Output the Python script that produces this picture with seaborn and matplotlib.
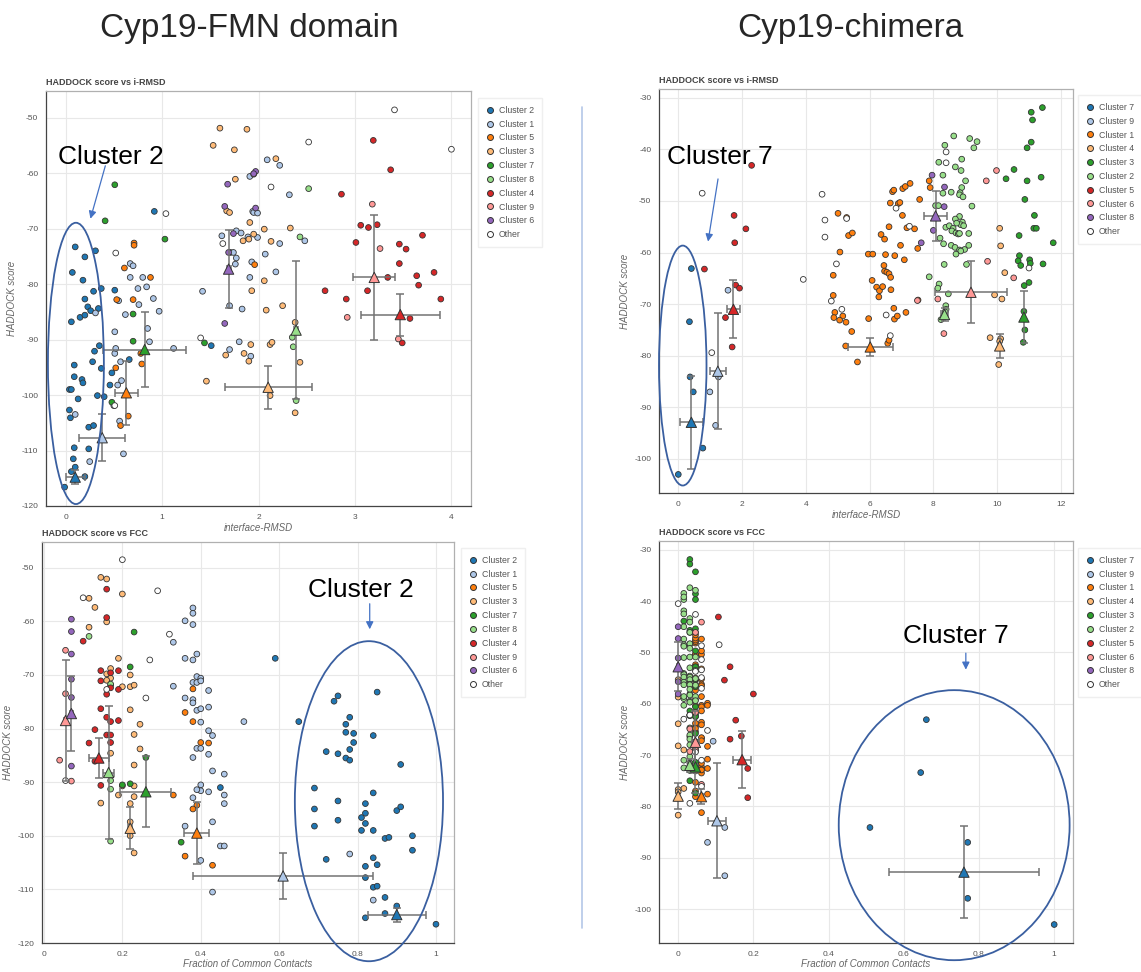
import pandas as pd
import matplotlib.pyplot as plt
import seaborn as sns
from matplotlib.patches import Ellipse
from matplotlib.lines import Line2D
from matplotlib.ticker import AutoMinorLocator, MultipleLocator, FuncFormatter

# colour by rank of the cluster in each legend (bokeh Category20 pairs)
COLORS = ["#1f77b4", "#aec7e8", "#ff7f0e", "#ffbb78", "#2ca02c",
          "#98df8a", "#d62728", "#ff9896", "#9467bd", "#ffffff"]

FMN_ORDER = ["Cluster 2", "Cluster 1", "Cluster 5", "Cluster 3", "Cluster 7",
             "Cluster 8", "Cluster 4", "Cluster 9", "Cluster 6", "Other"]
CHI_ORDER = ["Cluster 7", "Cluster 9", "Cluster 1", "Cluster 4", "Cluster 3",
             "Cluster 2", "Cluster 5", "Cluster 6", "Cluster 8", "Other"]

# ---- Cyp19-FMN domain: (i-RMSD, HADDOCK score) ----
FMN_RMSD = {
    "Cluster 2": [(0.10, -73.3), (0.07, -77.9), (0.20, -75.1), (0.31, -74.0), (0.18, -79.3),
                  (0.20, -82.7), (0.29, -81.3), (0.37, -80.8), (0.51, -81.1), (0.06, -86.8),
                  (0.15, -86.0), (0.20, -85.6), (0.23, -84.1), (0.26, -84.8), (0.34, -84.4),
                  (0.35, -91.1), (0.30, -92.1), (0.28, -94.0), (0.09, -94.6), (0.09, -96.7),
                  (0.17, -97.2), (0.18, -97.8), (0.04, -99.0), (0.06, -99.0), (0.33, -100.1),
                  (0.13, -100.7), (0.04, -102.7), (0.05, -104.1), (0.09, -109.5), (0.08, -111.5),
                  (0.10, -113.0), (0.20, -114.7), (0.24, -109.7), (0.24, -105.8), (0.29, -105.5),
                  (-0.01, -116.6), (0.37, -95.2), (0.40, -100.3), (0.46, -98.2), (0.48, -96.0),
                  (0.66, -93.6), (0.92, -66.9), (1.51, -91.1), (0.06, -113.8)],
    "Cluster 1": [(0.10, -103.5), (0.31, -85.2), (0.51, -88.6), (0.51, -92.5), (0.52, -91.6),
                  (0.57, -94.0), (0.54, -98.2), (0.58, -97.4), (0.50, -101.9), (0.56, -104.7),
                  (0.60, -110.6), (0.25, -112.0), (0.67, -76.3), (0.70, -76.7), (0.67, -78.8),
                  (0.75, -80.8), (0.80, -78.8), (0.84, -80.5), (0.76, -83.7), (0.62, -85.5),
                  (0.55, -83.0), (0.85, -88.0), (0.87, -90.4), (0.91, -82.6), (0.97, -84.9),
                  (1.12, -91.6), (1.42, -81.3), (1.62, -71.3), (1.71, -74.3), (1.74, -74.3),
                  (1.77, -75.3), (1.76, -76.4), (1.70, -83.9), (1.77, -70.4), (1.82, -70.8),
                  (1.83, -84.5), (1.80, -90.4), (1.70, -91.8), (1.89, -71.5), (1.91, -78.8),
                  (1.91, -60.6), (1.94, -66.9), (1.95, -67.1), (1.99, -67.2), (1.99, -71.6),
                  (1.93, -76.0), (1.92, -93.0), (2.07, -74.6), (2.09, -57.6), (2.18, -77.8),
                  (2.22, -58.6), (2.22, -72.7), (2.32, -63.9), (2.48, -72.2)],
    "Cluster 5": [(0.71, -72.6), (0.71, -73.0), (0.61, -77.1), (0.53, -82.8), (0.70, -82.8),
                  (0.88, -78.8), (0.78, -92.5), (0.79, -94.4), (0.52, -95.1), (0.57, -105.5),
                  (0.65, -103.8), (1.96, -76.5)],
    "Cluster 3": [(1.60, -51.9), (1.88, -52.1), (1.53, -55.0), (1.75, -55.8), (2.18, -57.4),
                  (1.95, -60.2), (1.76, -61.1), (1.67, -66.8), (1.70, -67.1), (1.91, -68.9),
                  (2.06, -70.1), (2.33, -69.9), (1.95, -71.0), (1.84, -72.2), (1.90, -71.9),
                  (2.13, -72.3), (2.06, -79.4), (1.93, -81.2), (2.08, -84.7), (2.25, -83.9),
                  (1.66, -92.8), (1.85, -92.5), (1.92, -90.9), (2.12, -90.9), (2.14, -90.5),
                  (1.90, -93.9), (1.46, -97.5), (2.12, -100.1), (2.43, -94.1), (2.38, -86.9),
                  (2.38, -103.2)],
    "Cluster 7": [(0.51, -62.1), (0.41, -68.6), (1.03, -71.9), (0.70, -85.4), (0.70, -90.3),
                  (1.44, -90.6), (0.48, -101.3)],
    "Cluster 8": [(2.52, -62.8), (2.43, -71.5), (2.35, -89.6), (2.36, -91.3), (2.39, -101.0)],
    "Cluster 4": [(3.19, -54.1), (3.37, -59.4), (2.86, -63.8), (3.06, -69.4), (3.14, -69.8),
                  (3.23, -69.3), (3.01, -72.5), (3.46, -72.8), (3.53, -73.7), (3.70, -71.2),
                  (3.46, -76.3), (3.34, -78.8), (3.64, -78.5), (3.66, -80.2), (3.82, -77.9),
                  (2.69, -81.2), (3.13, -81.2), (2.91, -82.7), (3.89, -82.7), (3.57, -86.2),
                  (3.49, -90.6)],
    "Cluster 9": [(3.18, -65.6), (3.26, -73.6), (2.92, -86.0), (3.45, -89.9)],
    "Cluster 6": [(1.97, -59.7), (1.95, -60.1), (1.68, -62.0), (1.65, -66.0), (1.97, -66.3),
                  (1.74, -70.9), (1.69, -74.3), (1.65, -87.1)],
    "Other": [(3.41, -48.6), (4.00, -55.7), (2.52, -54.4), (2.13, -62.5), (1.04, -67.3),
              (0.52, -74.4), (1.63, -72.7), (1.40, -89.7), (0.51, -101.9)],
}

# ---- Cyp19-FMN domain: (FCC, HADDOCK score) ----
FMN_FCC = {
    "Cluster 2": [(0.59, -66.9), (0.65, -78.7), (0.74, -74.9), (0.75, -73.9), (0.85, -73.2),
                  (0.77, -79.2), (0.78, -77.9), (0.77, -80.7), (0.79, -80.9), (0.84, -81.3),
                  (0.79, -82.6), (0.72, -84.3), (0.75, -84.7), (0.77, -85.5), (0.78, -85.9),
                  (0.78, -83.9), (0.91, -86.7), (0.69, -91.1), (0.69, -95.0), (0.69, -98.2),
                  (0.75, -93.5), (0.75, -97.1), (0.84, -92.0), (0.82, -94.0), (0.82, -95.8),
                  (0.81, -96.6), (0.82, -97.7), (0.81, -99.0), (0.84, -99.0), (0.90, -95.3),
                  (0.91, -94.6), (0.87, -100.5), (0.88, -100.3), (0.94, -100.0), (0.94, -102.7),
                  (0.72, -104.4), (0.84, -104.1), (0.82, -105.7), (0.85, -105.4), (0.82, -107.8),
                  (0.84, -109.6), (0.85, -109.4), (0.87, -111.5), (0.90, -113.1), (0.87, -114.5),
                  (0.82, -115.3), (1.00, -116.5), (0.45, -91.0)],
    "Cluster 1": [(0.38, -57.5), (0.38, -58.5), (0.36, -59.9), (0.38, -60.6), (0.33, -63.9),
                  (0.33, -72.1), (0.36, -66.9), (0.38, -67.2), (0.39, -66.1), (0.39, -70.3),
                  (0.38, -71.4), (0.39, -71.4), (0.40, -70.6), (0.40, -71.1), (0.36, -74.3),
                  (0.38, -74.6), (0.38, -75.2), (0.39, -76.6), (0.40, -76.3), (0.42, -76.0),
                  (0.42, -72.9), (0.40, -78.8), (0.51, -78.7), (0.42, -80.4), (0.43, -81.3),
                  (0.39, -83.7), (0.40, -83.7), (0.42, -84.8), (0.38, -85.4), (0.43, -87.9),
                  (0.46, -88.5), (0.40, -90.5), (0.40, -91.6), (0.39, -91.4), (0.42, -91.8),
                  (0.46, -92.4), (0.46, -94.0), (0.38, -92.9), (0.43, -97.4), (0.36, -98.2),
                  (0.45, -101.9), (0.46, -101.9), (0.40, -104.6), (0.43, -110.5), (0.78, -103.4),
                  (0.84, -112.0)],
    "Cluster 5": [(0.38, -72.6), (0.36, -77.0), (0.38, -78.7), (0.40, -82.6), (0.42, -82.7),
                  (0.33, -92.4), (0.39, -94.3), (0.38, -95.0), (0.36, -103.8), (0.43, -105.5)],
    "Cluster 3": [(0.145, -51.8), (0.16, -52.1), (0.20, -54.9), (0.115, -55.7), (0.13, -57.4),
                  (0.115, -61.1), (0.16, -60.1), (0.19, -66.9), (0.17, -68.8), (0.16, -69.8),
                  (0.22, -70.0), (0.17, -70.6), (0.16, -71.0), (0.20, -72.2), (0.22, -72.2),
                  (0.23, -71.9), (0.22, -76.5), (0.245, -79.2), (0.23, -81.1), (0.17, -84.6),
                  (0.245, -83.8), (0.23, -86.8), (0.23, -90.7), (0.20, -90.7), (0.19, -92.4),
                  (0.23, -92.7), (0.22, -94.0), (0.145, -93.9), (0.22, -97.4), (0.22, -100.0),
                  (0.23, -103.2)],
    "Cluster 7": [(0.23, -62.0), (0.22, -68.5), (0.17, -71.9), (0.26, -85.4), (0.20, -90.5),
                  (0.22, -90.3), (0.35, -101.2)],
    "Cluster 8": [(0.115, -62.8), (0.17, -71.7), (0.17, -89.7), (0.17, -91.3), (0.17, -101.0)],
    "Cluster 4": [(0.16, -54.0), (0.10, -63.7), (0.16, -59.3), (0.145, -69.2), (0.145, -71.1),
                  (0.17, -69.6), (0.19, -69.2), (0.17, -72.4), (0.19, -72.7), (0.16, -73.6),
                  (0.145, -76.3), (0.16, -77.9), (0.17, -78.7), (0.19, -78.5), (0.13, -80.2),
                  (0.16, -81.2), (0.17, -81.2), (0.17, -82.6), (0.115, -82.7), (0.13, -86.1),
                  (0.145, -90.6)],
    "Cluster 9": [(0.055, -65.4), (0.055, -73.5), (0.04, -85.9), (0.07, -89.8)],
    "Cluster 6": [(0.07, -59.6), (0.07, -61.9), (0.07, -66.1), (0.07, -70.8), (0.07, -74.2),
                  (0.07, -87.0)],
    "Other": [(0.20, -48.5), (0.10, -55.6), (0.29, -54.3), (0.32, -62.4), (0.27, -67.2),
              (0.16, -72.7), (0.26, -74.3), (0.055, -89.7)],
}

# cluster means (top 4) +/- sd, in FMN_ORDER without "Other"
FMN_RMSD_MX = [0.10, 0.38, 0.63, 2.10, 0.82, 2.39, 3.47, 3.20, 1.69]
FMN_RMSD_SX = [0.10, 0.24, 0.12, 0.45, 0.43, 0.02, 0.41, 0.22, 0.02]
FMN_RMSD_MY = [-114.8, -107.7, -99.6, -98.6, -91.8, -88.3, -85.5, -78.8, -77.3]
FMN_RMSD_SY = [1.2, 4.2, 5.8, 3.9, 6.7, 12.5, 3.8, 11.2, 7.0]
FMN_FCC_MX = [0.90, 0.61, 0.39, 0.22, 0.26, 0.165, 0.14, 0.055, 0.07]
FMN_FCC_SX = [0.074, 0.23, 0.032, 0.005, 0.065, 0.014, 0.025, 0.004, 0.004]
FMN_FCC_MY = [-114.7, -107.5, -99.5, -98.6, -91.8, -88.2, -85.5, -78.5, -77.2]
FMN_FCC_SY = [1.3, 4.2, 5.8, 3.9, 6.6, 12.4, 3.8, 11.2, 7.0]

# ---- Cyp19-chimera: (i-RMSD, FCC, HADDOCK score) ----
CHI = {
    "Cluster 7": [(0.41, 0.66, -63.1), (0.35, 0.645, -73.4), (0.37, 0.51, -84.1),
                  (0.47, 0.77, -87.0), (0.77, 0.77, -97.9), (0.0, 1.0, -103.0)],
    "Cluster 9": [(1.56, 0.093, -67.3), (1.26, 0.124, -84.1), (0.99, 0.078, -87.0),
                  (1.17, 0.124, -93.5)],
    "Cluster 1": [(5.01, 0.046, -52.4), (5.28, 0.062, -53.2), (5.34, 0.046, -56.7), (5.46, 0.062, -56.2),
                  (5.07, 0.078, -59.9), (4.86, 0.046, -64.4), (4.86, 0.078, -68.3), (4.91, 0.046, -71.6),
                  (4.88, 0.078, -72.6), (5.16, 0.062, -72.3), (5.06, 0.046, -73.1), (5.26, 0.062, -73.5),
                  (5.25, 0.046, -78.1), (5.44, 0.046, -75.3), (5.62, 0.062, -81.2), (5.96, 0.062, -60.3),
                  (6.10, 0.078, -60.3), (6.08, 0.046, -65.4), (5.97, 0.062, -72.8), (6.36, 0.062, -56.5),
                  (6.47, 0.046, -57.4), (6.45, 0.046, -62.5), (6.50, 0.046, -60.4), (6.47, 0.062, -63.6),
                  (6.54, 0.046, -63.8), (6.61, 0.062, -64.1), (6.66, 0.046, -64.8), (6.22, 0.062, -66.7),
                  (6.31, 0.046, -67.4), (6.41, 0.062, -66.6), (6.29, 0.046, -68.6), (6.67, 0.062, -67.2),
                  (6.61, 0.046, -55.0), (6.65, 0.062, -50.4), (6.72, 0.046, -48.2), (6.76, 0.046, -47.9),
                  (6.90, 0.046, -50.5), (6.95, 0.046, -50.3), (7.04, 0.046, -47.6), (7.12, 0.046, -47.2),
                  (7.27, 0.046, -46.6), (6.79, 0.062, -60.6), (6.76, 0.078, -70.8), (6.78, 0.062, -72.9),
                  (6.87, 0.046, -72.3), (6.57, 0.078, -77.6), (6.61, 0.046, -77.0), (6.97, 0.062, -58.6),
                  (7.03, 0.046, -52.8), (7.09, 0.062, -61.4), (7.14, 0.062, -71.6), (7.17, 0.062, -55.2),
                  (7.41, 0.046, -55.4), (7.57, 0.062, -49.7), (7.51, 0.046, -59.2), (7.52, 0.046, -69.2),
                  (7.87, 0.046, -46.1), (7.90, 0.062, -47.4)],
    "Cluster 4": [(10.08, 0.0, -55.3), (10.11, 0.0, -58.7), (10.24, 0.0, -63.9), (9.92, 0.0, -68.2),
                  (10.15, 0.015, -69.0), (9.78, 0.015, -76.5), (10.11, 0.0, -76.7), (10.08, 0.0, -77.2),
                  (10.05, 0.0, -81.7)],
    "Cluster 3": [(11.42, 0.031, -31.9), (11.07, 0.031, -32.8), (11.11, 0.046, -34.3), (11.07, 0.046, -38.6),
                  (10.94, 0.046, -39.7), (10.53, 0.015, -43.9), (10.28, 0.031, -45.7), (11.38, 0.046, -45.4),
                  (10.94, 0.031, -46.1), (10.87, 0.046, -49.7), (11.17, 0.046, -52.8), (11.15, 0.046, -55.3),
                  (11.23, 0.031, -55.3), (10.69, 0.046, -56.7), (11.76, 0.031, -58.1), (10.70, 0.046, -60.6),
                  (10.66, 0.046, -61.6), (11.02, 0.031, -61.4), (11.04, 0.046, -62.1), (11.44, 0.031, -62.2),
                  (10.74, 0.046, -62.5), (10.85, 0.031, -66.4), (11.00, 0.046, -65.8), (10.84, 0.046, -71.4),
                  (10.87, 0.031, -75.0), (10.82, 0.046, -77.4)],
    "Cluster 2": [(8.64, 0.031, -37.4), (9.14, 0.046, -37.9), (9.37, 0.015, -38.5), (9.27, 0.015, -39.7),
                  (8.36, 0.015, -39.2), (8.89, 0.015, -41.9), (8.17, 0.015, -42.5), (8.69, 0.031, -43.4),
                  (8.87, 0.031, -44.1), (8.30, 0.015, -45.0), (9.01, 0.031, -46.1), (8.89, 0.015, -47.4),
                  (8.84, 0.031, -48.4), (8.56, 0.031, -48.3), (8.30, 0.015, -48.5), (8.82, 0.015, -48.8),
                  (8.93, 0.031, -49.2), (8.07, 0.046, -50.9), (8.16, 0.031, -50.9), (9.21, 0.015, -51.0),
                  (8.82, 0.031, -53.0), (8.69, 0.046, -53.5), (8.91, 0.015, -54.1), (8.86, 0.031, -54.6),
                  (8.73, 0.015, -54.3), (8.95, 0.031, -54.8), (8.39, 0.046, -55.1), (8.50, 0.015, -54.8),
                  (8.62, 0.031, -55.3), (8.58, 0.015, -55.8), (8.71, 0.031, -56.2), (8.78, 0.046, -56.4),
                  (8.82, 0.031, -56.3), (9.11, 0.015, -56.3), (8.21, 0.031, -57.2), (8.32, 0.031, -58.3),
                  (8.56, 0.046, -58.6), (8.68, 0.015, -59.0), (8.82, 0.031, -59.5), (8.98, 0.046, -59.4),
                  (9.11, 0.015, -58.6), (8.86, 0.031, -59.7), (8.71, 0.015, -60.3), (9.04, 0.031, -62.3),
                  (8.34, 0.031, -62.3), (7.87, 0.031, -64.7), (8.18, 0.031, -66.1), (8.14, 0.031, -66.9),
                  (8.47, 0.031, -68.0), (8.39, 0.031, -70.3), (8.40, 0.015, -71.0), (8.37, 0.031, -71.5),
                  (8.34, 0.031, -72.1), (8.24, 0.031, -73.0), (8.31, 0.015, -72.5)],
    "Cluster 5": [(2.30, 0.107, -43.1), (1.75, 0.138, -52.8), (2.12, 0.123, -55.4), (1.77, 0.200, -58.1),
                  (0.82, 0.153, -63.2), (1.80, 0.168, -66.3), (1.92, 0.138, -66.9), (1.48, 0.185, -72.6),
                  (1.69, 0.185, -78.3)],
    "Cluster 6": [(9.98, 0.062, -44.1), (9.66, 0.046, -46.1), (9.70, 0.046, -61.7), (10.52, 0.031, -64.9),
                  (8.14, 0.046, -69.0), (7.50, 0.031, -69.3), (8.33, 0.062, -75.7)],
    "Cluster 8": [(7.96, 0.0, -45.0), (8.35, 0.0, -47.3), (8.34, 0.0, -51.1), (8.00, 0.0, -55.7),
                  (7.62, 0.0, -58.1)],
    "Other": [(0.75, 0.109, -48.5), (4.51, 0.062, -48.7), (4.60, 0.046, -53.7), (4.60, 0.062, -57.0),
              (4.96, 0.031, -62.2), (3.92, 0.078, -65.2), (4.80, 0.046, -69.4), (5.13, 0.062, -71.0),
              (5.28, 0.062, -53.4), (6.65, 0.062, -76.1), (6.52, 0.046, -72.1), (6.83, 0.062, -51.4),
              (7.25, 0.062, -54.9), (8.40, 0.0, -40.5), (8.40, 0.046, -42.6), (11.00, 0.015, -63.0),
              (1.05, 0.031, -79.4)],
}

CHI_RMSD_MX = [0.41, 1.24, 6.02, 10.08, 10.84, 8.35, 1.73, 9.18, 8.07]
CHI_RMSD_SX = [0.35, 0.25, 0.71, 0.05, 0.03, 0.10, 0.19, 1.13, 0.37]
CHI_RMSD_MY = [-92.9, -83.0, -78.3, -78.1, -72.5, -72.0, -71.0, -67.7, -52.9]
CHI_RMSD_SY = [9.0, 11.2, 1.8, 2.4, 5.0, 1.2, 5.6, 6.0, 4.8]
CHI_FCC_MX = [0.76, 0.103, 0.062, 0.0, 0.046, 0.031, 0.17, 0.046, 0.0]
CHI_FCC_SX = [0.20, 0.023, 0.005, 0.003, 0.005, 0.004, 0.023, 0.01, 0.002]
CHI_FCC_MY = [-92.8, -82.8, -78.1, -78.0, -72.3, -72.0, -70.9, -67.5, -52.8]
CHI_FCC_SY = [8.9, 11.2, 1.5, 2.5, 5.0, 1.2, 5.6, 6.0, 4.8]


def points_frame(groups):
    rows = [(name, x, y) for name, pts in groups.items() for x, y in pts]
    return pd.DataFrame(rows, columns=["cluster", "x", "y"])


def chimera_frame(col):
    rows = [(name, p[col], p[2]) for name, pts in CHI.items() for p in pts]
    return pd.DataFrame(rows, columns=["cluster", "x", "y"])


def means_frame(order, mx, sx, my, sy):
    return pd.DataFrame({"cluster": order[:-1], "mx": mx, "sx": sx, "my": my, "sy": sy})


sns.set_style("white")
plt.rcParams["font.family"] = ["Liberation Sans", "DejaVu Sans"]
plt.rcParams["axes.unicode_minus"] = False

W, H = 1141, 972
fig = plt.figure(figsize=(W / 100, H / 100), dpi=100)


def panel(rect, df, means, order, xlim, ylim, xstep, ystep, title, xlabel, legend_xy, xlabel_gap):
    ax_h = rect[3] - rect[1]
    ax = fig.add_axes([rect[0] / W, 1 - rect[3] / H, (rect[2] - rect[0]) / W, ax_h / H])
    pal = dict(zip(order, COLORS))
    sns.scatterplot(data=df, x="x", y="y", hue="cluster", hue_order=order, palette=pal,
                    s=17, edgecolor="#333333", linewidth=0.6, legend=False, ax=ax, zorder=2)
    ax.errorbar(means["mx"], means["my"], xerr=means["sx"], yerr=means["sy"], fmt="none",
                ecolor="#737373", elinewidth=1.1, capsize=3, capthick=1.1, zorder=3)
    sns.scatterplot(data=means, x="mx", y="my", hue="cluster", hue_order=order[:-1], palette=pal,
                    marker="^", s=55, edgecolor="#333333", linewidth=0.7, legend=False, ax=ax, zorder=4)
    ax.set_xlim(*xlim)
    ax.set_ylim(*ylim)
    ax.xaxis.set_major_locator(MultipleLocator(xstep))
    ax.yaxis.set_major_locator(MultipleLocator(ystep))
    ax.xaxis.set_minor_locator(AutoMinorLocator(5))
    ax.yaxis.set_minor_locator(AutoMinorLocator(5))
    ax.xaxis.set_major_formatter(FuncFormatter(lambda v, p: f"{v:g}"))
    ax.yaxis.set_major_formatter(FuncFormatter(lambda v, p: f"{v:g}"))
    ax.tick_params(which="major", labelsize=6, colors="#555555", length=3.5, width=0.8, pad=2)
    ax.tick_params(which="minor", colors="#555555", length=2, width=0.6)
    ax.grid(True, which="major", color="#e8e8e8", lw=0.8)
    ax.set_axisbelow(True)
    for side, sp in ax.spines.items():
        sp.set_color("#444444" if side in ("left", "bottom") else "#b0b0b0")
        sp.set_linewidth(0.9)
    ax.set_title(title, loc="left", fontsize=6.5, fontweight="bold", color="#444444", pad=4)
    ax.set_xlabel(xlabel, fontsize=7, style="italic", color="#666666")
    ax.xaxis.set_label_coords(0.5, -xlabel_gap / ax_h)
    ax.set_ylabel("HADDOCK score", fontsize=7, style="italic", color="#666666", labelpad=3)
    handles = [Line2D([0], [0], marker="o", ls="", markerfacecolor=c, markeredgecolor="#333333",
                      markeredgewidth=0.7, markersize=4.3) for c in COLORS]
    ax.legend(handles, order, loc="upper left", bbox_to_anchor=(legend_xy[0] / W, 1 - legend_xy[1] / H),
              bbox_transform=fig.transFigure, fontsize=6.3, labelcolor="#555555", frameon=True,
              edgecolor="#ebebeb", fancybox=False, borderpad=0.9, labelspacing=0.55,
              handletextpad=0.6, handlelength=0.9, borderaxespad=0)
    return ax


def callout(ax, text, text_xy, arrow_from, arrow_to, center, width, height):
    ax.add_patch(Ellipse(center, width, height, fill=False, edgecolor="#3a5fa0", lw=1.3,
                         clip_on=False, zorder=5))
    ax.text(text_xy[0], text_xy[1], text, fontsize=19, color="black", va="baseline", ha="left",
            zorder=6)
    ax.annotate("", xy=arrow_to, xytext=arrow_from, zorder=6,
                arrowprops=dict(arrowstyle="-|>", color="#4472c4", lw=0.9, mutation_scale=11))


ax1 = panel((46, 91, 471, 506), points_frame(FMN_RMSD),
            means_frame(FMN_ORDER, FMN_RMSD_MX, FMN_RMSD_SX, FMN_RMSD_MY, FMN_RMSD_SY),
            FMN_ORDER, (-0.203, 4.203), (-120, -45.2), 1, 10,
            "HADDOCK score vs i-RMSD", "interface-RMSD", (478, 98), 17)
callout(ax1, "Cluster 2", (-0.074, -58.3), (0.42, -58.2), (0.25, -68.7), (0.107, -94.3), 0.58, 50.7)

ax2 = panel((659, 89, 1073, 493), chimera_frame(0),
            means_frame(CHI_ORDER, CHI_RMSD_MX, CHI_RMSD_SX, CHI_RMSD_MY, CHI_RMSD_SY),
            CHI_ORDER, (-0.605, 12.38), (-106.6, -28.3), 2, 10,
            "HADDOCK score vs i-RMSD", "interface-RMSD", (1078, 95), 17)
callout(ax2, "Cluster 7", (-0.35, -42.8), (1.26, -45.2), (0.92, -58.4), (0.14, -81.9), 1.49, 46.5)

ax3 = panel((42, 542, 454, 943), points_frame(FMN_FCC),
            means_frame(FMN_ORDER, FMN_FCC_MX, FMN_FCC_SX, FMN_FCC_MY, FMN_FCC_SY),
            FMN_ORDER, (-0.005, 1.046), (-120, -45.2), 0.2, 10,
            "HADDOCK score vs FCC", "Fraction of Common Contacts", (461, 548), 16)
callout(ax3, "Cluster 2", (0.673, -55.4), (0.831, -56.2), (0.831, -62.0), (0.829, -93.55), 0.378, 59.7)

ax4 = panel((659, 541, 1073, 943), chimera_frame(1),
            means_frame(CHI_ORDER, CHI_FCC_MX, CHI_FCC_SX, CHI_FCC_MY, CHI_FCC_SY),
            CHI_ORDER, (-0.051, 1.050), (-106.6, -28.3), 0.2, 10,
            "HADDOCK score vs FCC", "Fraction of Common Contacts", (1078, 548), 16)
callout(ax4, "Cluster 7", (0.598, -48.1), (0.765, -49.6), (0.765, -53.9), (0.734, -83.65), 0.614, 52.6)

fig.text(249 / W, 1 - 28 / H, "Cyp19-FMN domain", ha="center", va="center", fontsize=24)
fig.text(850 / W, 1 - 28 / H, "Cyp19-chimera", ha="center", va="center", fontsize=24)
fig.add_artist(Line2D([582 / W, 582 / W], [1 - 107 / H, 1 - 928 / H], color="#b4c7e7", lw=1.2))

fig.savefig("out.png", dpi=100)
